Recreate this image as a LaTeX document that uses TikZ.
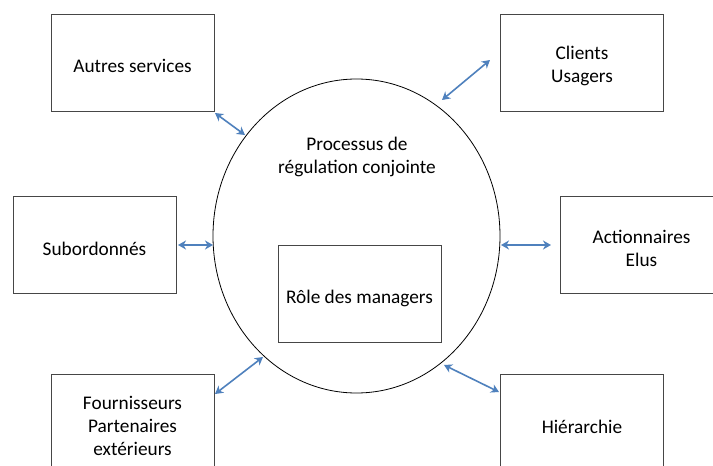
\documentclass[tikz,border=0pt]{standalone}
\usepackage{fontspec}
\setmainfont{Carlito}
\usetikzlibrary{arrows.meta,shapes.geometric}
\definecolor{arrowblue}{RGB}{79,129,189}
\definecolor{boxgray}{RGB}{70,70,70}
\tikzset{
  box/.style={draw=boxgray, line width=0.9pt, minimum width=163pt, minimum height=97pt, inner sep=0pt},
  lbl/.style={align=center, font=\fontsize{19.3}{23}\selectfont, inner sep=0pt},
  link/.style={arrowblue, line width=1.6pt, {Stealth[length=8pt,width=9pt,inset=2.5pt]}-{Stealth[length=8pt,width=9pt,inset=2.5pt]}},
}
\begin{document}
\begin{tikzpicture}[x=1pt,y=-1pt]
\useasboundingbox (0,0) rectangle (713,466);
\clip (0,0) rectangle (713,466);
\fill[white] (0,0) rectangle (713,466);
% ellipse
\node[draw=black, line width=0.8pt, ellipse, minimum width=287pt, minimum height=314pt, inner sep=0pt] (ell) at (356.5,236) {};
\node[lbl] (proc) at (357,157) {Processus de\\régulation conjointe};
\node[box] (role) at (359.5,293.5) {};
\node[lbl] at ([yshift=-5pt]role.center) {Rôle des managers};
% outer boxes
\node[box] (autres) at (132.5,62.5) {};
\node[lbl] at ([yshift=-3pt]autres.center) {Autres services};
\node[box] (clients) at (582,62.5) {};
\node[lbl] at ([yshift=-3pt]clients.center) {Clients\\Usagers};
\node[box] (sub) at (94.5,245) {};
\node[lbl] at ([yshift=-4pt]sub.center) {Subordonnés};
\node[box] (action) at (641.5,245) {};
\node[lbl] at ([yshift=-3pt]action.center) {Actionnaires\\Elus};
\node[box] (fourn) at (132.5,422.5) {};
\node[lbl] at ([yshift=-3pt]fourn.center) {Fournisseurs\\Partenaires\\extérieurs};
\node[box] (hier) at (582,422.5) {};
\node[lbl] at ([yshift=-4pt]hier.center) {Hiérarchie};
% connector end points
\coordinate (c1a) at (215,113);
\coordinate (c1b) at (245,135);
\coordinate (c2a) at (490,60);
\coordinate (c2b) at (442,100);
\coordinate (c3a) at (178,245);
\coordinate (c3b) at (213,245);
\coordinate (c4a) at (501,245);
\coordinate (c4b) at (551,245);
\coordinate (c5a) at (215,394);
\coordinate (c5b) at (263,357);
\coordinate (c6a) at (444,365);
\coordinate (c6b) at (499,392);
\draw[link] (c1a) -- (c1b);
\draw[link] (c2a) -- (c2b);
\draw[link] (c3a) -- (c3b);
\draw[link] (c4a) -- (c4b);
\draw[link] (c5a) -- (c5b);
\draw[link] (c6a) -- (c6b);
\end{tikzpicture}
\end{document}
